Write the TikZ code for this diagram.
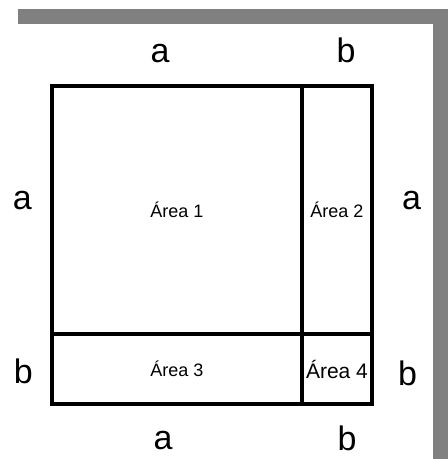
\documentclass[tikz,border=0pt]{standalone}
\usepackage{fontspec}
\setmainfont{Liberation Sans}
\usetikzlibrary{positioning}

\begin{document}
\begin{tikzpicture}[x=1pt, y=-1pt,
    area/.style={draw, line width=3.2pt, outer sep=0pt, inner sep=0pt,
      font=\fontsize{18}{18}\selectfont},
    side/.style={inner sep=0pt, font=\fontsize{34}{34}\selectfont}]
  \useasboundingbox (0,0) rectangle (448,459);
  % grey frame
  \fill[gray] (18,9) rectangle (448,24);
  \fill[gray] (433,9) rectangle (448,459);

  % the four areas
  \node[area, minimum width=250pt, minimum height=248pt] (a1) at (177,210) {Área 1};
  \node[area, minimum width=70pt, minimum height=248pt, right=0pt of a1] (a2) {Área 2};
  \node[area, minimum width=250pt, minimum height=70pt, below=0pt of a1] (a3) {Área 3};
  \node[area, minimum width=70pt, minimum height=70pt, right=0pt of a3,
    font=\fontsize{21}{21}\selectfont] (a4) {Área 4};

  % side lengths
  \node[side, above=23pt of a1, xshift=-17pt] (top-a) {a};
  \node[side, above=23pt of a2, xshift=9pt] (top-b) {b};
  \node[side, below=27pt of a3, xshift=-14pt] (bot-a) {a};
  \node[side, below=22pt of a4, xshift=10pt] (bot-b) {b};
  \node[side, left=20pt of a1, yshift=9pt] (left-a) {a};
  \node[side, left=19pt of a3, yshift=-2pt] (left-b) {b};
  \node[side, right=30pt of a2, yshift=9pt] (right-a) {a};
  \node[side, right=26pt of a4, yshift=-4pt] (right-b) {b};
\end{tikzpicture}
\end{document}
